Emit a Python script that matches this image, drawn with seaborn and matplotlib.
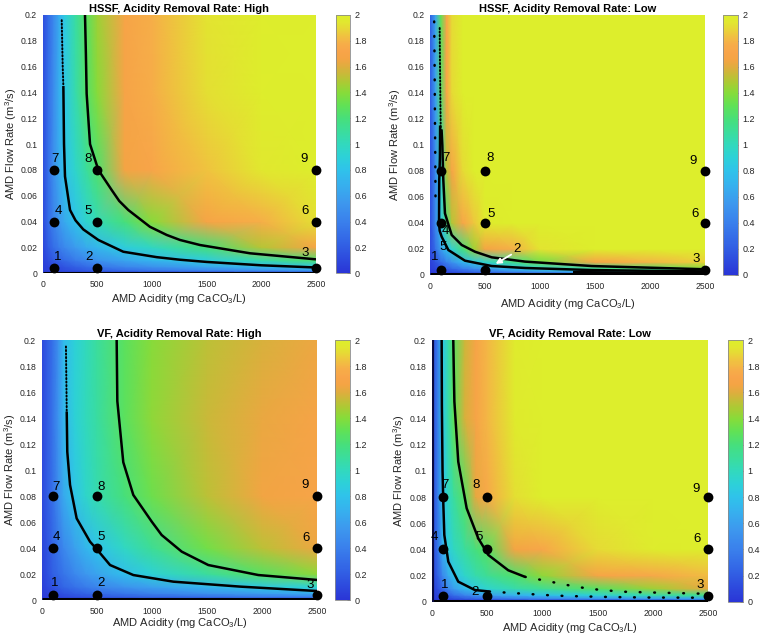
import numpy as np
import matplotlib
matplotlib.use("Agg")
import matplotlib.pyplot as plt
import seaborn as sns
from matplotlib.colors import LinearSegmentedColormap

# ---------------- data ----------------
grid_x = [0, 50, 100, 150, 200, 300, 400, 500, 750, 1000, 1500, 2000, 2500]
grid_y = [0, 0.0025, 0.005, 0.01, 0.02, 0.04, 0.08, 0.14, 0.2]

hssf_high_z = [
    [0.05, 0.05, 0.05, 0.05, 0.05, 0.05, 0.05, 0.05, 0.05, 0.05, 0.05, 0.05, 0.05],
    [0.05, 0.06, 0.08, 0.10, 0.12, 0.16, 0.20, 0.23, 0.30, 0.36, 0.45, 0.52, 0.58],
    [0.05, 0.07, 0.10, 0.13, 0.16, 0.22, 0.28, 0.33, 0.43, 0.50, 0.63, 0.73, 0.82],
    [0.06, 0.12, 0.18, 0.23, 0.28, 0.37, 0.45, 0.52, 0.63, 0.72, 0.87, 1.05, 1.23],
    [0.08, 0.20, 0.30, 0.38, 0.45, 0.57, 0.66, 0.73, 0.87, 0.98, 1.20, 1.50, 1.68],
    [0.10, 0.28, 0.42, 0.55, 0.65, 0.80, 0.93, 1.03, 1.20, 1.40, 1.68, 1.78, 1.92],
    [0.12, 0.30, 0.50, 0.66, 0.80, 0.95, 1.10, 1.24, 1.66, 1.72, 1.84, 1.95, 2.00],
    [0.12, 0.30, 0.48, 0.68, 0.83, 1.05, 1.25, 1.40, 1.69, 1.77, 1.92, 1.99, 2.00],
    [0.12, 0.28, 0.45, 0.65, 0.85, 1.08, 1.27, 1.45, 1.70, 1.78, 1.93, 1.99, 2.00],
]
hssf_low_z = [
    [0.03, 0.03, 0.03, 0.03, 0.03, 0.03, 0.03, 0.03, 0.03, 0.03, 0.03, 0.03, 0.03],
    [0.03, 0.05, 0.08, 0.11, 0.14, 0.20, 0.26, 0.31, 0.43, 0.52, 0.68, 0.80, 0.90],
    [0.04, 0.08, 0.14, 0.20, 0.26, 0.38, 0.48, 0.57, 0.77, 0.90, 1.10, 1.25, 1.40],
    [0.06, 0.15, 0.28, 0.40, 0.52, 0.73, 0.85, 0.95, 1.15, 1.35, 1.70, 1.80, 1.88],
    [0.10, 0.30, 0.60, 0.78, 0.92, 1.20, 1.45, 1.66, 1.78, 1.93, 2.00, 2.00, 2.00],
    [0.10, 0.45, 0.85, 1.20, 1.50, 1.72, 1.85, 1.97, 2.00, 2.00, 2.00, 2.00, 2.00],
    [0.12, 0.45, 0.95, 1.50, 1.70, 1.90, 2.00, 2.00, 2.00, 2.00, 2.00, 2.00, 2.00],
    [0.18, 0.60, 1.25, 1.70, 1.90, 2.00, 2.00, 2.00, 2.00, 2.00, 2.00, 2.00, 2.00],
    [0.20, 0.62, 1.30, 1.70, 1.90, 2.00, 2.00, 2.00, 2.00, 2.00, 2.00, 2.00, 2.00],
]
vf_high_z = [
    [0.02, 0.02, 0.02, 0.02, 0.02, 0.02, 0.02, 0.02, 0.02, 0.02, 0.02, 0.02, 0.02],
    [0.03, 0.04, 0.06, 0.08, 0.10, 0.13, 0.15, 0.18, 0.22, 0.26, 0.32, 0.38, 0.42],
    [0.04, 0.06, 0.09, 0.12, 0.15, 0.20, 0.24, 0.28, 0.35, 0.41, 0.50, 0.58, 0.66],
    [0.05, 0.10, 0.15, 0.20, 0.25, 0.32, 0.38, 0.43, 0.52, 0.60, 0.72, 0.83, 0.93],
    [0.07, 0.14, 0.22, 0.28, 0.34, 0.45, 0.54, 0.61, 0.77, 0.90, 1.10, 1.27, 1.42],
    [0.08, 0.15, 0.25, 0.35, 0.45, 0.60, 0.72, 0.80, 0.97, 1.12, 1.35, 1.52, 1.64],
    [0.10, 0.20, 0.32, 0.48, 0.65, 0.82, 0.95, 1.04, 1.20, 1.33, 1.52, 1.65, 1.71],
    [0.10, 0.20, 0.33, 0.52, 0.72, 0.90, 1.00, 1.08, 1.28, 1.42, 1.55, 1.63, 1.69],
    [0.10, 0.20, 0.32, 0.50, 0.75, 0.90, 1.00, 1.10, 1.28, 1.40, 1.52, 1.58, 1.64],
]
vf_low_z = [
    [0.02, 0.02, 0.02, 0.02, 0.02, 0.02, 0.02, 0.02, 0.02, 0.02, 0.02, 0.02, 0.02],
    [0.03, 0.04, 0.07, 0.10, 0.14, 0.20, 0.26, 0.30, 0.38, 0.44, 0.52, 0.58, 0.62],
    [0.04, 0.07, 0.14, 0.22, 0.30, 0.42, 0.52, 0.60, 0.70, 0.78, 0.92, 1.05, 1.15],
    [0.05, 0.12, 0.28, 0.45, 0.58, 0.76, 0.86, 0.93, 1.05, 1.13, 1.27, 1.45, 1.62],
    [0.06, 0.20, 0.45, 0.65, 0.80, 0.95, 1.05, 1.12, 1.24, 1.42, 1.68, 1.74, 1.82],
    [0.08, 0.28, 0.70, 0.88, 0.98, 1.10, 1.20, 1.27, 1.66, 1.73, 1.90, 1.98, 2.00],
    [0.10, 0.33, 0.80, 0.98, 1.10, 1.27, 1.62, 1.74, 1.92, 2.00, 2.00, 2.00, 2.00],
    [0.10, 0.35, 0.83, 1.07, 1.30, 1.58, 1.70, 1.80, 1.97, 2.00, 2.00, 2.00, 2.00],
    [0.10, 0.35, 0.82, 1.05, 1.27, 1.56, 1.70, 1.80, 1.97, 2.00, 2.00, 2.00, 2.00],
]

# design points
point_x = [100, 500, 2500, 100, 500, 2500, 100, 500, 2500]
point_y = [0.004, 0.004, 0.004, 0.04, 0.04, 0.04, 0.08, 0.08, 0.08]
point_labels = ["1", "2", "3", "4", "5", "6", "7", "8", "9"]

# contour lines
hh_inner_dot_x = [174, 178, 183, 189]
hh_inner_dot_y = [0.196, 0.18, 0.16, 0.145]
hh_inner_x = [189, 195, 204, 250, 300, 371, 509, 737, 1043, 1256, 1500, 2000, 2500]
hh_inner_y = [0.145, 0.1, 0.075, 0.049, 0.041, 0.034, 0.0258, 0.0167, 0.0125, 0.0105, 0.0088, 0.0062, 0.0045]
hh_outer_x = [387, 395, 402, 433, 509, 631, 700, 783, 981, 1134, 1256, 1439, 1896, 2500]
hh_outer_y = [0.2, 0.17, 0.139, 0.1, 0.08, 0.0645, 0.056, 0.049, 0.036, 0.0297, 0.0258, 0.0219, 0.0155, 0.0108]

hl_sparse_x = [38, 42, 45, 48, 50]
hl_sparse_y = [0.195, 0.16, 0.12, 0.09, 0.06]
hl_dense_x = [88, 91, 95, 98]
hl_dense_y = [0.19, 0.16, 0.13, 0.108]
hl_inner_x = [92, 90, 84, 82, 88, 106, 167, 318, 561, 864, 1470, 2000, 2500]
hl_inner_y = [0.115, 0.09, 0.073, 0.04, 0.034, 0.0295, 0.0192, 0.011, 0.0069, 0.0054, 0.0038, 0.0032, 0.0028]
hl_outer_x = [105, 112, 121, 136, 197, 288, 409, 561, 864, 1470, 2500]
hl_outer_y = [0.112, 0.1, 0.0731, 0.0474, 0.0308, 0.0231, 0.0179, 0.0136, 0.0103, 0.0069, 0.0044]
hl_base_x = [1300, 1800, 2500]
hl_base_y = [0.0022, 0.0019, 0.0017]

vh_inner_dot_x = [220, 222, 225, 227]
vh_inner_dot_y = [0.195, 0.18, 0.16, 0.145]
vh_inner_x = [227, 232, 257, 317, 438, 505, 620, 831, 1194, 1799, 2500]
vh_inner_y = [0.145, 0.114, 0.0885, 0.0628, 0.0449, 0.0385, 0.0269, 0.0192, 0.0141, 0.0103, 0.0069]
vh_outer_x = [680, 686, 740, 831, 998, 1088, 1270, 1511, 1965, 2500]
vh_outer_y = [0.2, 0.153, 0.106, 0.0808, 0.0603, 0.05, 0.0372, 0.0269, 0.0192, 0.0154]

vl_inner_x = [90, 92, 98, 105, 114, 150, 240, 391, 520]
vl_inner_y = [0.2, 0.15, 0.1, 0.075, 0.051, 0.0306, 0.0153, 0.0089, 0.0078]
vl_inner_dot_x = [520, 700, 850, 1050, 1200, 1400, 1600, 1950, 2300, 2500]
vl_inner_dot_y = [0.0078, 0.0068, 0.006, 0.005, 0.0044, 0.004, 0.0036, 0.0032, 0.0031, 0.003]
vl_outer_x = [195, 200, 205, 240, 316, 421, 512, 692, 843]
vl_outer_y = [0.2, 0.175, 0.153, 0.107, 0.0714, 0.0484, 0.0357, 0.024, 0.019]
vl_outer_dot_x = [843, 1000, 1144, 1300, 1446, 1600, 1747, 2048, 2319, 2500]
vl_outer_dot_y = [0.019, 0.0165, 0.0141, 0.0115, 0.0097, 0.0085, 0.0076, 0.0069, 0.0064, 0.006]

x_ticks = [0, 500, 1000, 1500, 2000, 2500]
x_tick_labels = ["0", "500", "1000", "1500", "2000", "2500"]
y_ticks = [0, 0.02, 0.04, 0.06, 0.08, 0.1, 0.12, 0.14, 0.16, 0.18, 0.2]
y_tick_labels = ["0", "0.02", "0.04", "0.06", "0.08", "0.1", "0.12", "0.14", "0.16", "0.18", "0.2"]
cb_ticks = [0, 0.2, 0.4, 0.6, 0.8, 1.0, 1.2, 1.4, 1.6, 1.8, 2.0]
cb_tick_labels = ["0", "0.2", "0.4", "0.6", "0.8", "1", "1.2", "1.4", "1.6", "1.8", "2"]

titles = ["HSSF, Acidity Removal Rate: High", "HSSF, Acidity Removal Rate: Low",
          "VF, Acidity Removal Rate: High", "VF, Acidity Removal Rate: Low"]

# ---------------- style ----------------
sns.set_style("white")
plt.rcParams["font.family"] = ["Liberation Sans", "DejaVu Sans"]
plt.rcParams["mathtext.default"] = "regular"

cmap_nodes = [
    (0.00, "#2a35d6"), (0.10, "#2d49dd"), (0.25, "#3366e6"), (0.40, "#3a80ec"),
    (0.55, "#3d98ee"), (0.70, "#36b2ee"), (0.80, "#2fc3ea"), (0.90, "#2dd1d8"),
    (1.00, "#32d9bd"), (1.10, "#3bdd9c"), (1.20, "#47df7b"), (1.30, "#60e156"),
    (1.40, "#86dc3a"), (1.48, "#aacb34"), (1.54, "#c4bc38"), (1.60, "#dfad3e"),
    (1.66, "#f4a444"), (1.72, "#f8a449"), (1.78, "#f6ae48"), (1.84, "#f0c240"),
    (1.90, "#e7d936"), (1.95, "#e1e82f"), (2.00, "#ddee2c"),
]
cmap = LinearSegmentedColormap.from_list("rate", [(v / 2.0, c) for v, c in cmap_nodes])

fig = plt.figure(figsize=(7.61, 6.40), dpi=100)
W, H = 761.0, 640.0


def box(l, t, r, b):
    return [l / W, 1 - b / H, (r - l) / W, (b - t) / H]


ax_boxes = [box(42.7, 15, 316, 273.3), box(430, 15, 705, 275),
            box(41.7, 340, 317.3, 600), box(431.7, 340, 708.3, 601.7)]
cb_boxes = [box(335.7, 15, 350, 273.3), box(723, 15, 738, 275),
            box(335, 340, 350, 600), box(727.7, 340, 743, 601.7)]
ylabel_pos = [-0.088, -0.098, -0.085, -0.089]
xlabel_pos = [-0.072, -0.085, -0.060, -0.073]

fields = [hssf_high_z, hssf_low_z, vf_high_z, vf_low_z]

solid, dense, sparse = "solid", "dense", "sparse"
panel_lines = [
    [(hh_inner_dot_x, hh_inner_dot_y, dense), (hh_inner_x, hh_inner_y, solid),
     (hh_outer_x, hh_outer_y, solid)],
    [(hl_sparse_x, hl_sparse_y, sparse), (hl_dense_x, hl_dense_y, dense),
     (hl_inner_x, hl_inner_y, solid), (hl_outer_x, hl_outer_y, solid),
     (hl_base_x, hl_base_y, solid)],
    [(vh_inner_dot_x, vh_inner_dot_y, dense), (vh_inner_x, vh_inner_y, solid),
     (vh_outer_x, vh_outer_y, solid)],
    [(vl_inner_x, vl_inner_y, solid), (vl_inner_dot_x, vl_inner_dot_y, sparse),
     (vl_outer_x, vl_outer_y, solid), (vl_outer_dot_x, vl_outer_dot_y, sparse)],
]

label_offsets = [
    [(4, 11), (-8, 11), (-11, 15), (5, 11), (-9, 11), (-11, 11), (1, 11), (-9, 11), (-12, 11)],
    [(-6, 13), (32, 21), (-9, 11), (4, -8), (6, 9), (-10, 9), (5, 13), (5, 13), (-12, 10)],
    [(2, 12), (4, 12), (-7, 10), (4, 11), (4, 11), (-11, 10), (3, 9), (4, 9), (-12, 11)],
    [(2, 11), (-12, 4), (-8, 11), (-8, 12), (-8, 12), (-11, 10), (2, 12), (-11, 12), (-12, 8)],
]

text_gray = "#262626"

for i in range(4):
    ax = fig.add_axes(ax_boxes[i])
    cax = fig.add_axes(cb_boxes[i])
    z = np.array(fields[i])
    mesh = ax.pcolormesh(grid_x, grid_y, z, shading="gouraud", cmap=cmap,
                         vmin=0, vmax=2, zorder=1)

    # bottom black edge line
    ax.plot([0, 2500], [0.0004, 0.0004], color="black", lw=2.2, zorder=3,
            solid_capstyle="butt")
    if i == 3:
        ax.plot([8, 8], [0, 0.2], color="#0a0a40", lw=1.6, zorder=3)

    for lx, ly, kind in panel_lines[i]:
        if kind == solid:
            ax.plot(lx, ly, color="black", lw=1.8, zorder=4, solid_capstyle="butt")
        elif kind == dense:
            ax.plot(lx, ly, color="black", lw=1.4, zorder=4,
                    linestyle=(0, (0.6, 1.2)), dash_capstyle="round")
        else:
            ax.plot(lx, ly, color="black", lw=1.8, zorder=4,
                    linestyle=(0, (0.3, 5.5)), dash_capstyle="round")

    sns.scatterplot(x=point_x, y=point_y, ax=ax, color="black", s=50,
                    linewidth=0, zorder=6, clip_on=False, legend=False)

    for lbl, px, py, (dx, dy) in zip(point_labels, point_x, point_y, label_offsets[i]):
        ax.annotate(lbl, (px, py), xytext=(dx, dy), textcoords="offset pixels",
                    ha="center", va="center", fontsize=9.5, color="black",
                    zorder=7, annotation_clip=False)

    if i == 1:
        ax.annotate("", xy=(575, 0.0075), xytext=(760, 0.0168),
                    arrowprops=dict(arrowstyle="-|>", color="white", lw=1.3,
                                    mutation_scale=8), zorder=7)
        ax.text(120, 0.0215, "5", ha="center", va="center", fontsize=9.5,
                color="black", zorder=3)

    ax.set_xlim(0, 2500)
    ax.set_ylim(0, 0.2)
    ax.set_xticks(x_ticks)
    ax.set_xticklabels(x_tick_labels)
    ax.set_yticks(y_ticks)
    ax.set_yticklabels(y_tick_labels)
    ax.tick_params(axis="both", length=0, labelsize=6.2, colors=text_gray)
    ax.tick_params(axis="x", pad=5)
    ax.tick_params(axis="y", pad=4)
    for s in ax.spines.values():
        s.set_visible(False)
    ax.set_xlabel("AMD Acidity (mg CaCO$_3$/L)", fontsize=8, color=text_gray)
    ax.set_ylabel("AMD Flow Rate (m$^3$/s)", fontsize=8, color=text_gray)
    ax.xaxis.set_label_coords(0.5, xlabel_pos[i])
    ax.yaxis.set_label_coords(ylabel_pos[i], 0.5)
    ax.set_title(titles[i], fontsize=8, fontweight="bold", pad=2.5, color="black")

    cb = fig.colorbar(mesh, cax=cax, ticks=cb_ticks)
    cb.ax.set_yticklabels(cb_tick_labels)
    cb.ax.tick_params(direction="in", length=2.5, width=0.5, labelsize=6.5,
                      colors=text_gray, pad=3)
    cb.outline.set_linewidth(0.6)
    cb.outline.set_edgecolor("#8a8a8a")

fig.savefig("out.png", dpi=100)
